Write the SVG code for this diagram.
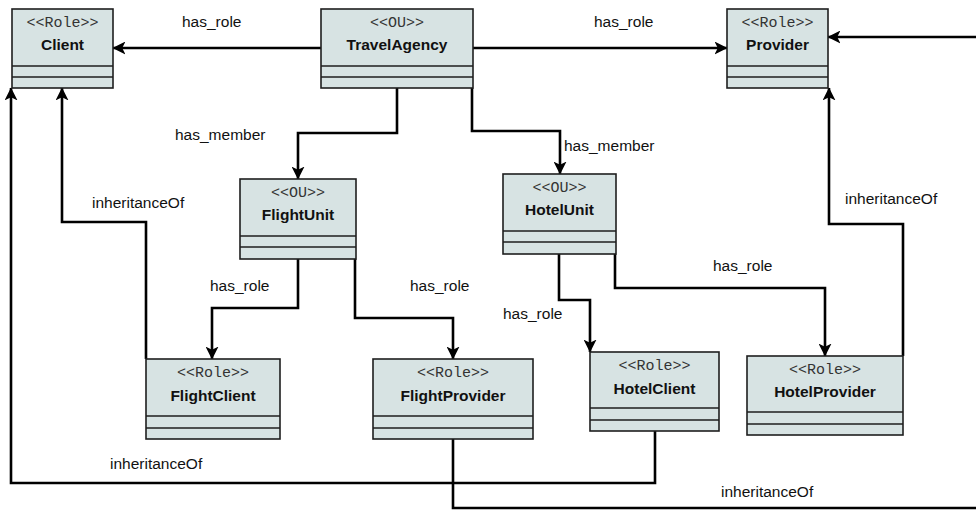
<svg xmlns="http://www.w3.org/2000/svg" width="976" height="512" viewBox="0 0 976 512">
  <style>
    .box { fill: #d7e3e3; stroke: #1e1e1e; stroke-width: 1.6; }
    .sep { stroke: #1e1e1e; stroke-width: 1.6; }
    .st { font-family: "Liberation Mono", "DejaVu Sans Mono", monospace; font-size: 15px; fill: #333; text-anchor: middle; dominant-baseline: central; }
    .nm { font-family: "Liberation Sans", Arial, sans-serif; font-size: 15.5px; font-weight: bold; fill: #111; text-anchor: middle; dominant-baseline: central; }
    .lbl { font-family: "Liberation Sans", Arial, sans-serif; font-size: 15.5px; fill: #111; dominant-baseline: central; }
    .edge { fill: none; stroke: #000; stroke-width: 2.6; marker-end: url(#arrow); }
  </style>
  <defs>
    <marker id="arrow" viewBox="0 0 12 12" refX="11.5" refY="6" markerWidth="5" markerHeight="5" orient="auto" markerUnits="strokeWidth">
      <path d="M0,0 L12,6 L0,12 L3,6 z" fill="#000"/>
    </marker>
  </defs>
  <rect width="976" height="512" fill="#fff"/>

  <g id="connectors">
    <path class="edge" d="M321,48 H113"/>
    <path class="edge" d="M473,48 H727"/>
    <path class="edge" d="M453,439 V508 H984 V37 H828"/>
    <path class="edge" d="M903,356 V224 H829 V88"/>
    <path class="edge" d="M397,88 V133 H298 V179"/>
    <path class="edge" d="M472,88 V131 H560 V174"/>
    <path class="edge" d="M298,259 V308 H212 V359"/>
    <path class="edge" d="M355,259 V318 H453 V359"/>
    <path class="edge" d="M559,254 V300 H590 V352"/>
    <path class="edge" d="M615,254 V288 H825 V356"/>
    <path class="edge" d="M146,359 V222 H62 V88"/>
    <path class="edge" d="M655,431 V483 H11 V88"/>
  </g>

  <g id="labels">
    <text class="lbl" x="182" y="21">has_role</text>
    <text class="lbl" x="594" y="21">has_role</text>
    <text class="lbl" x="175" y="134">has_member</text>
    <text class="lbl" x="564" y="145">has_member</text>
    <text class="lbl" x="92" y="202">inheritanceOf</text>
    <text class="lbl" x="845" y="198">inheritanceOf</text>
    <text class="lbl" x="210" y="285">has_role</text>
    <text class="lbl" x="410" y="285">has_role</text>
    <text class="lbl" x="503" y="313">has_role</text>
    <text class="lbl" x="713" y="265">has_role</text>
    <text class="lbl" x="110" y="463">inheritanceOf</text>
    <text class="lbl" x="721" y="491">inheritanceOf</text>
  </g>

  <g id="Client">
    <rect class="box" x="12" y="9" width="101" height="79"/>
    <line class="sep" x1="12" y1="66" x2="113" y2="66"/>
    <line class="sep" x1="12" y1="77" x2="113" y2="77"/>
    <text class="st" x="62.5" y="23">&lt;&lt;Role&gt;&gt;</text>
    <text class="nm" x="62.5" y="44">Client</text>
  </g>

  <g id="TravelAgency">
    <rect class="box" x="321" y="9" width="152" height="79"/>
    <line class="sep" x1="321" y1="66" x2="473" y2="66"/>
    <line class="sep" x1="321" y1="77" x2="473" y2="77"/>
    <text class="st" x="397" y="23">&lt;&lt;OU&gt;&gt;</text>
    <text class="nm" x="397" y="44">TravelAgency</text>
  </g>

  <g id="Provider">
    <rect class="box" x="727" y="9" width="101" height="79"/>
    <line class="sep" x1="727" y1="66" x2="828" y2="66"/>
    <line class="sep" x1="727" y1="77" x2="828" y2="77"/>
    <text class="st" x="777.5" y="23">&lt;&lt;Role&gt;&gt;</text>
    <text class="nm" x="777.5" y="44">Provider</text>
  </g>

  <g id="FlightUnit">
    <rect class="box" x="240" y="179" width="116" height="80"/>
    <line class="sep" x1="240" y1="236" x2="356" y2="236"/>
    <line class="sep" x1="240" y1="247" x2="356" y2="247"/>
    <text class="st" x="298" y="193">&lt;&lt;OU&gt;&gt;</text>
    <text class="nm" x="298" y="214">FlightUnit</text>
  </g>

  <g id="HotelUnit">
    <rect class="box" x="503" y="174" width="113" height="80"/>
    <line class="sep" x1="503" y1="231" x2="616" y2="231"/>
    <line class="sep" x1="503" y1="242" x2="616" y2="242"/>
    <text class="st" x="559.5" y="188">&lt;&lt;OU&gt;&gt;</text>
    <text class="nm" x="559.5" y="209">HotelUnit</text>
  </g>

  <g id="FlightClient">
    <rect class="box" x="146" y="359" width="134" height="80"/>
    <line class="sep" x1="146" y1="416" x2="280" y2="416"/>
    <line class="sep" x1="146" y1="428" x2="280" y2="428"/>
    <text class="st" x="213" y="373">&lt;&lt;Role&gt;&gt;</text>
    <text class="nm" x="213" y="395">FlightClient</text>
  </g>

  <g id="FlightProvider">
    <rect class="box" x="373" y="359" width="160" height="80"/>
    <line class="sep" x1="373" y1="416" x2="533" y2="416"/>
    <line class="sep" x1="373" y1="428" x2="533" y2="428"/>
    <text class="st" x="453" y="373">&lt;&lt;Role&gt;&gt;</text>
    <text class="nm" x="453" y="395">FlightProvider</text>
  </g>

  <g id="HotelClient">
    <rect class="box" x="590" y="352" width="129" height="79"/>
    <line class="sep" x1="590" y1="408" x2="719" y2="408"/>
    <line class="sep" x1="590" y1="420" x2="719" y2="420"/>
    <text class="st" x="654.5" y="366">&lt;&lt;Role&gt;&gt;</text>
    <text class="nm" x="654.5" y="388">HotelClient</text>
  </g>

  <g id="HotelProvider">
    <rect class="box" x="747" y="356" width="156" height="79"/>
    <line class="sep" x1="747" y1="412" x2="903" y2="412"/>
    <line class="sep" x1="747" y1="424" x2="903" y2="424"/>
    <text class="st" x="825" y="370">&lt;&lt;Role&gt;&gt;</text>
    <text class="nm" x="825" y="391">HotelProvider</text>
  </g>
</svg>
